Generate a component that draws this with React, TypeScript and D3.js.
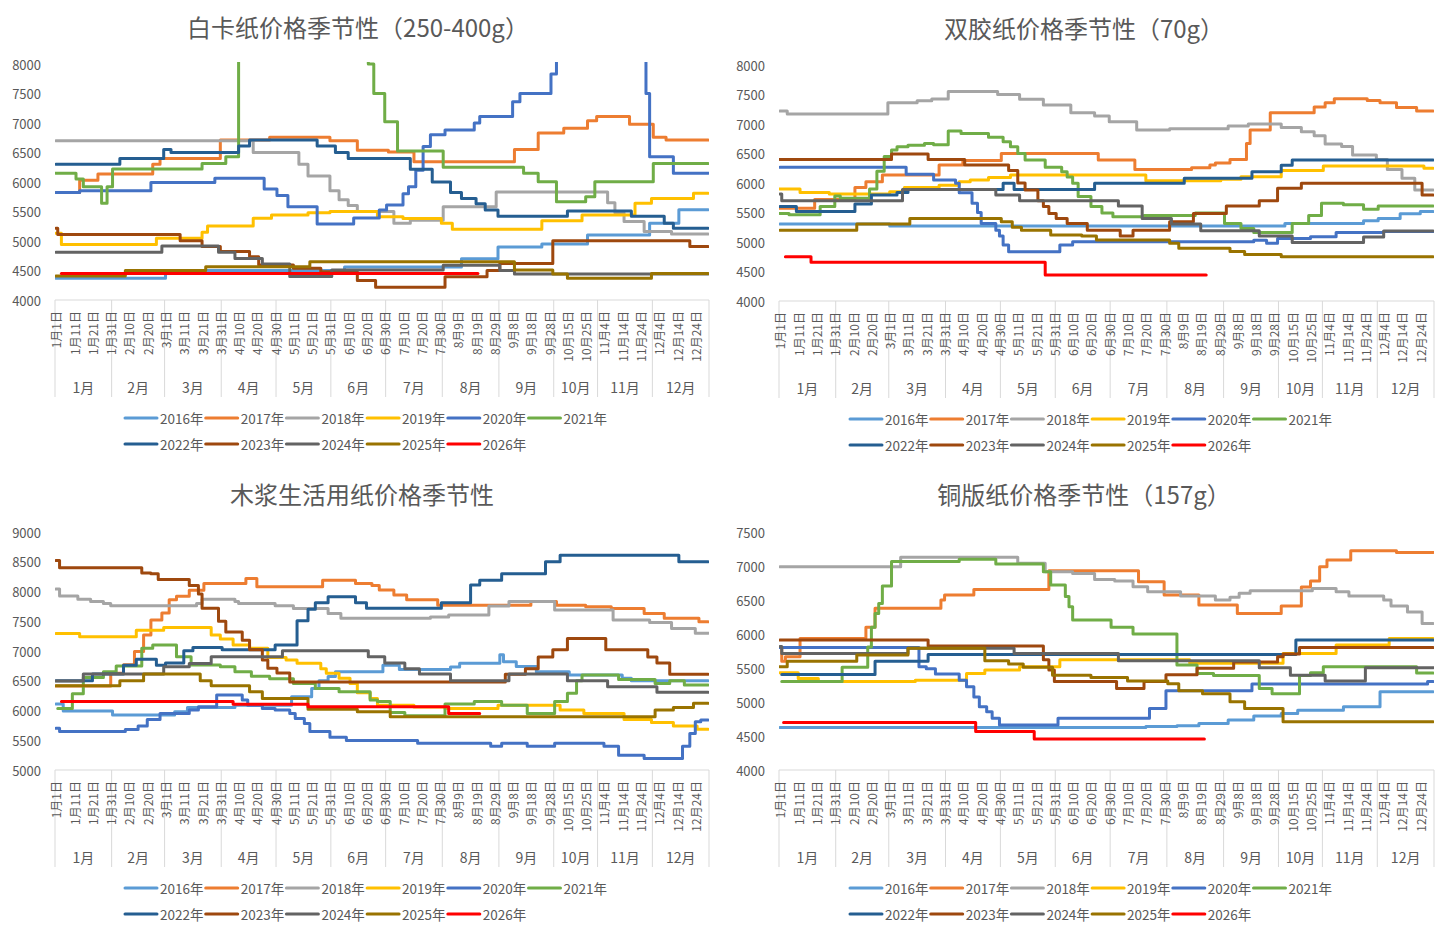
import React from 'react';
import * as d3 from 'd3';

// 季节性图：每条线按交易日索引记录价格变化点 [日序, 价格]
type Pt = [number, number];

const YEARS = ['2016年', '2017年', '2018年', '2019年', '2020年', '2021年', '2022年', '2023年', '2024年', '2025年', '2026年'];
const COLORS = ['#5B9BD5', '#ED7D31', '#A5A5A5', '#FFC000', '#4472C4', '#70AD47', '#255E91', '#9E480E', '#636363', '#997300', '#FF0000'];

const DAY_LABELS = ['1月1日', '1月11日', '1月21日', '1月31日', '2月10日', '2月20日', '3月1日', '3月11日', '3月21日', '3月31日', '4月10日', '4月20日', '4月30日', '5月11日', '5月21日', '5月31日', '6月10日', '6月20日', '6月30日', '7月10日', '7月20日', '7月30日', '8月9日', '8月19日', '8月29日', '9月8日', '9月18日', '9月28日', '10月15日', '10月25日', '11月4日', '11月14日', '11月24日', '12月4日', '12月14日', '12月24日'];
const MONTHS = ['1月', '2月', '3月', '4月', '5月', '6月', '7月', '8月', '9月', '10月', '11月', '12月'];
const MONTH_START = [0, 31, 60, 91, 121, 151, 181, 212, 243, 273, 297, 327, 358];
const N_DAYS = 358;

// 白卡纸（250-400g）
const BAIKA: Pt[][] = [
  [[0, 4370], [60, 4500], [158, 4560], [222, 4700], [242, 4900], [266, 4950], [291, 5100], [325, 5300], [341, 5530]],
  [[0, 5820], [13, 6030], [23, 6135], [53, 6300], [57, 6400], [90, 6710], [117, 6760], [150, 6700], [165, 6540], [182, 6510], [196, 6345], [251, 6550], [264, 6830], [278, 6910], [291, 7040], [296, 7110], [314, 6980], [327, 6760], [334, 6710]],
  [[0, 6700], [108, 6500], [133, 6300], [138, 6100], [150, 5850], [155, 5700], [160, 5600], [165, 5500], [185, 5300], [194, 5350], [212, 5580], [241, 5830], [302, 5650], [306, 5480], [311, 5330], [322, 5160], [337, 5120]],
  [[0, 5130], [3, 4940], [55, 5045], [80, 5150], [83, 5255], [108, 5385], [118, 5440], [138, 5480], [150, 5500], [176, 5410], [190, 5380], [211, 5300], [217, 5200], [266, 5345], [288, 5440], [317, 5640], [326, 5720], [349, 5810]],
  [[0, 5820], [13, 5850], [52, 5990], [87, 6065], [114, 5880], [121, 5770], [127, 5580], [143, 5290], [163, 5390], [177, 5525], [181, 5610], [190, 5800], [193, 5920], [197, 6200], [201, 6600], [205, 6800], [213, 6880], [229, 7000], [232, 7110], [250, 7360], [254, 7500], [271, 7830], [274, 9000], [323, 7500], [325, 6430], [338, 6150]],
  [[0, 6150], [11, 6050], [15, 5920], [25, 5640], [28, 5920], [31, 6220], [80, 6315], [93, 6430], [100, 9000], [171, 8000], [174, 7500], [180, 7020], [187, 6525], [212, 6250], [256, 6150], [264, 6005], [274, 5665], [290, 5750], [295, 6005], [327, 6315]],
  [[0, 6300], [35, 6400], [59, 6550], [63, 6500], [100, 6610], [106, 6710], [143, 6610], [153, 6500], [160, 6400], [194, 6215], [206, 6000], [216, 5820], [222, 5720], [230, 5630], [235, 5525], [242, 5420], [280, 5510], [315, 5420], [333, 5300], [338, 5215]],
  [[0, 5215], [1, 5110], [68, 5005], [80, 4905], [90, 4820], [106, 4735], [111, 4595], [130, 4540], [145, 4480], [165, 4330], [175, 4215], [213, 4395], [236, 4500], [243, 4620], [272, 5005], [347, 4905]],
  [[0, 4810], [58, 4915], [89, 4810], [98, 4705], [113, 4610], [128, 4400], [151, 4510], [212, 4590], [243, 4500], [251, 4440]],
  [[0, 4405], [38, 4500], [82, 4565], [139, 4650], [251, 4510], [272, 4440], [280, 4370], [326, 4450]],
  [[3, 4450], [231, 4450]],
];

// 双胶纸（70g）
const SHUANGJIAO: Pt[][] = [
  [[0, 5305], [60, 5270], [276, 5315], [319, 5360], [327, 5400], [339, 5480], [350, 5515]],
  [[0, 5570], [19, 5720], [41, 5925], [47, 6020], [56, 6135], [87, 6305], [100, 6380], [121, 6500], [174, 6390], [194, 6230], [225, 6260], [235, 6305], [238, 6340], [246, 6400], [255, 6670], [257, 6900], [268, 7190], [292, 7290], [298, 7360], [303, 7430], [321, 7400], [328, 7360], [337, 7280], [348, 7220]],
  [[0, 7220], [4, 7170], [59, 7360], [75, 7395], [83, 7425], [92, 7550], [119, 7500], [131, 7420], [144, 7320], [159, 7190], [172, 7135], [180, 7040], [195, 6900], [213, 6920], [245, 6965], [256, 7000], [274, 6940], [285, 6870], [292, 6800], [298, 6660], [307, 6620], [313, 6475], [326, 6400], [332, 6230], [340, 6080], [347, 5880]],
  [[0, 5900], [11, 5840], [27, 5815], [60, 5850], [68, 5925], [87, 5960], [98, 6020], [104, 6050], [114, 6095], [126, 6135], [200, 6040], [241, 6065], [252, 6105], [274, 6210], [297, 6290], [352, 6250]],
  [[0, 6265], [69, 6150], [84, 6050], [96, 5995], [98, 5835], [105, 5655], [108, 5500], [110, 5315], [118, 5200], [120, 5100], [122, 4950], [125, 4835], [153, 4950], [160, 5005], [259, 5030], [266, 4980], [272, 5060], [290, 5090], [304, 5160], [330, 5180]],
  [[0, 5485], [5, 5460], [22, 5600], [30, 5780], [33, 5740], [49, 5900], [53, 6200], [57, 6450], [61, 6560], [64, 6615], [70, 6640], [79, 6670], [84, 6650], [92, 6880], [99, 6840], [114, 6775], [122, 6700], [126, 6615], [130, 6500], [134, 6390], [145, 6265], [154, 6190], [157, 6100], [160, 5995], [163, 5770], [170, 5600], [176, 5490], [182, 5430], [199, 5450], [227, 5490], [243, 5315], [252, 5230], [259, 5160], [280, 5315], [289, 5450], [296, 5655], [308, 5630], [319, 5555], [327, 5610]],
  [[0, 5600], [9, 5515], [41, 5645], [50, 5795], [64, 5840], [70, 5890], [122, 5995], [128, 5890], [172, 5995], [221, 6080], [258, 6190], [274, 6300], [280, 6390]],
  [[0, 6400], [61, 6490], [81, 6400], [101, 6305], [125, 6210], [130, 6000], [134, 5880], [141, 5700], [144, 5600], [147, 5485], [151, 5400], [157, 5315], [168, 5200], [186, 5100], [193, 5200], [213, 5345], [226, 5485], [244, 5610], [262, 5700], [272, 5910], [285, 5995], [351, 5795]],
  [[0, 5815], [1, 5700], [67, 5890], [118, 5795], [131, 5700], [185, 5610], [198, 5400], [214, 5305], [230, 5190], [262, 5100], [280, 4990], [319, 5085], [330, 5185]],
  [[0, 5200], [42, 5305], [71, 5400], [121, 5345], [127, 5250], [132, 5200], [148, 5120], [165, 5100], [173, 5035], [213, 4980], [218, 4895], [246, 4840], [254, 4790], [274, 4750]],
  [[3, 4750], [17, 4655], [145, 4440], [233, 4440]],
];

// 木浆生活用纸
const MUJIANG: Pt[][] = [
  [[0, 6110], [4, 5990], [31, 5925], [65, 5980], [72, 6050], [98, 6090], [129, 6230], [140, 6370], [144, 6500], [149, 6570], [153, 6650], [179, 6760], [188, 6690], [216, 6730], [221, 6795], [243, 6935], [245, 6820], [252, 6740], [263, 6650], [281, 6595], [310, 6540], [315, 6500]],
  [[0, 6410], [30, 6625], [37, 6770], [43, 6990], [48, 7270], [52, 7520], [58, 7640], [62, 7860], [66, 7920], [73, 8020], [81, 8135], [104, 8220], [110, 8080], [146, 8190], [164, 8135], [173, 8100], [177, 8025], [185, 7940], [192, 7860], [209, 7770], [260, 7830], [274, 7770], [290, 7745], [304, 7715], [322, 7630], [333, 7550], [352, 7490]],
  [[0, 8040], [2, 7925], [12, 7870], [19, 7830], [26, 7800], [30, 7760], [77, 7800], [80, 7870], [98, 7830], [100, 7800], [120, 7760], [130, 7715], [149, 7630], [156, 7550], [205, 7570], [215, 7605], [237, 7755], [248, 7830], [273, 7690], [305, 7520], [325, 7480], [337, 7380], [350, 7300]],
  [[0, 7295], [13, 7240], [44, 7350], [59, 7395], [85, 7270], [90, 7200], [97, 7100], [106, 7045], [116, 6890], [126, 6850], [132, 6795], [145, 6700], [148, 6625], [155, 6540], [161, 6455], [165, 6300], [172, 6200], [176, 6090], [196, 6060], [213, 6035], [242, 6090], [276, 6010], [289, 5950], [311, 5850], [326, 5800], [338, 5740], [351, 5685]],
  [[0, 5700], [2, 5645], [38, 5680], [45, 5740], [50, 5850], [57, 5950], [73, 6010], [78, 6065], [88, 6260], [102, 6175], [105, 6090], [113, 6035], [120, 6010], [128, 5950], [131, 5865], [136, 5780], [139, 5645], [150, 5550], [159, 5495], [198, 5450], [238, 5400], [244, 5450], [258, 5400], [273, 5450], [300, 5400], [308, 5250], [322, 5195], [343, 5400], [347, 5615], [350, 5810], [353, 5840]],
  [[1, 6035], [9, 6280], [15, 6555], [26, 6650], [33, 6750], [47, 7045], [53, 7100], [66, 6905], [74, 6765], [90, 6735], [98, 6650], [107, 6575], [117, 6535], [130, 6455], [142, 6370], [155, 6315], [172, 6175], [176, 6150], [183, 5965], [191, 5910], [213, 6110], [229, 6150], [244, 6090], [258, 5950], [273, 6150], [280, 6290], [285, 6500], [288, 6595], [308, 6520], [328, 6455], [336, 6500], [344, 6430]],
  [[0, 6500], [20, 6615], [37, 6760], [44, 6860], [55, 6760], [60, 6800], [70, 7005], [75, 7060], [91, 7020], [120, 7100], [132, 7510], [138, 7700], [142, 7810], [149, 7910], [164, 7810], [170, 7720], [211, 7810], [227, 8110], [232, 8190], [244, 8300], [268, 8500], [276, 8610], [341, 8500]],
  [[0, 8520], [2, 8400], [47, 8310], [52, 8300], [56, 8200], [73, 8100], [78, 7960], [80, 7720], [89, 7500], [93, 7320], [102, 7180], [106, 7020], [113, 6850], [116, 6710], [121, 6630], [128, 6480], [246, 6610], [257, 6700], [264, 6900], [272, 7020], [280, 7210], [301, 7020], [324, 6900], [329, 6800], [336, 6610]],
  [[0, 6495], [15, 6615], [59, 6735], [73, 6790], [85, 6905], [124, 7005], [171, 6905], [180, 6800], [191, 6700], [199, 6615], [216, 6500], [248, 6615], [280, 6500], [302, 6400], [329, 6305]],
  [[0, 6415], [35, 6500], [48, 6615], [79, 6500], [85, 6415], [106, 6315], [113, 6200], [138, 6020], [165, 5980], [183, 5895], [328, 6010], [338, 6050], [349, 6120]],
  [[3, 6150], [97, 6105], [138, 6065], [215, 5950], [232, 5950]],
];

// 铜版纸（157g）
const TONGBAN: Pt[][] = [
  [[0, 4625], [200, 4640], [217, 4650], [229, 4685], [245, 4735], [259, 4795], [274, 4830], [283, 4880], [308, 4930], [328, 5150]],
  [[0, 5800], [1, 5600], [3, 5665], [11, 5935], [47, 6100], [52, 6380], [88, 6500], [90, 6575], [106, 6655], [147, 6930], [196, 6770], [210, 6575], [229, 6425], [250, 6300], [274, 6410], [285, 6690], [290, 6780], [295, 6990], [299, 7090], [312, 7225], [337, 7200]],
  [[0, 6990], [66, 7130], [130, 7040], [145, 6915], [160, 6890], [172, 6800], [183, 6780], [193, 6695], [201, 6620], [219, 6560], [238, 6500], [246, 6540], [251, 6600], [257, 6635], [291, 6670], [304, 6620], [311, 6560], [330, 6500], [334, 6410], [343, 6325], [351, 6155]],
  [[0, 5430], [10, 5345], [21, 5300], [74, 5320], [102, 5420], [112, 5470], [131, 5520], [153, 5620], [224, 5570], [275, 5715], [304, 5840], [333, 5935]],
  [[0, 5800], [76, 5520], [80, 5490], [85, 5410], [98, 5320], [102, 5225], [106, 5075], [109, 4930], [113, 4855], [116, 4760], [120, 4660], [152, 4760], [202, 4905], [211, 5165], [258, 5265], [354, 5300]],
  [[1, 5300], [34, 5510], [48, 5810], [50, 6100], [52, 6300], [54, 6450], [56, 6705], [61, 7065], [98, 7100], [118, 7030], [144, 6915], [148, 6720], [156, 6550], [158, 6400], [160, 6205], [181, 6100], [193, 6000], [217, 5545], [228, 5420], [237, 5390], [262, 5200], [269, 5120], [284, 5390], [290, 5430], [297, 5520], [348, 5425]],
  [[1, 5405], [52, 5600], [81, 5700], [282, 5910]],
  [[0, 5910], [81, 5825], [144, 5620], [147, 5470], [150, 5300], [184, 5200], [199, 5300], [211, 5400], [228, 5495], [248, 5590], [272, 5665], [275, 5705], [284, 5800]],
  [[0, 5815], [1, 5715], [70, 5790], [128, 5715], [185, 5605], [262, 5505], [279, 5395], [298, 5310], [320, 5505]],
  [[0, 5520], [4, 5600], [42, 5690], [70, 5790], [112, 5605], [125, 5560], [133, 5510], [149, 5395], [170, 5360], [190, 5310], [212, 5270], [218, 5165], [231, 5120], [246, 5005], [254, 4905], [275, 4710]],
  [[2, 4700], [107, 4565], [139, 4455], [232, 4455]],
];

interface PanelCfg {
  title: string;
  data: Pt[][];
  left: number;
  right: number;
  top: number;
  bottom: number;
  yMin: number;
  yMax: number;
  titleX: number;
  titleY: number;
  legendX: number;
}

const PANELS: PanelCfg[] = [
  { title: '白卡纸价格季节性（250-400g）', data: BAIKA, left: 55, right: 709, top: 64, bottom: 300, yMin: 4000, yMax: 8000, titleX: 358, titleY: 37, legendX: 125 },
  { title: '双胶纸价格季节性（70g）', data: SHUANGJIAO, left: 779, right: 1434, top: 65, bottom: 301, yMin: 4000, yMax: 8000, titleX: 1084, titleY: 38, legendX: 850 },
  { title: '木浆生活用纸价格季节性', data: MUJIANG, left: 55, right: 709, top: 532, bottom: 770, yMin: 5000, yMax: 9000, titleX: 362, titleY: 504, legendX: 125 },
  { title: '铜版纸价格季节性（157g）', data: TONGBAN, left: 779, right: 1434, top: 532, bottom: 770, yMin: 4000, yMax: 7500, titleX: 1084, titleY: 504, legendX: 850 },
];

const FONT = "'Noto Sans CJK SC', 'Noto Sans', sans-serif";
const TEXT = '#595959';
const AXIS = '#D9D9D9';

const Panel: React.FC<{ cfg: PanelCfg; idx: number }> = ({ cfg, idx }) => {
  const xs = d3.scaleLinear().domain([0, N_DAYS]).range([cfg.left, cfg.right]);
  const ys = d3.scaleLinear().domain([cfg.yMin, cfg.yMax]).range([cfg.bottom, cfg.top]);
  const line = d3.line<Pt>()
    .x(d => xs(d[0] + 0.5))
    .y(d => ys(d[1]))
    .curve(d3.curveStepAfter);
  const ticks = d3.range(cfg.yMin, cfg.yMax + 1, 500);
  const clipId = `plot-clip-${idx}`;

  return (
    <g>
      <defs>
        <clipPath id={clipId}>
          <rect x={cfg.left} y={cfg.top - 2} width={cfg.right - cfg.left} height={cfg.bottom - cfg.top + 4} />
        </clipPath>
      </defs>

      <text x={cfg.titleX} y={cfg.titleY} textAnchor="middle" fontSize={24} fill={TEXT} fontFamily={FONT}>
        {cfg.title}
      </text>

      {ticks.map(t => (
        <text key={t} x={cfg.left - 14} y={ys(t)} textAnchor="end" dominantBaseline="central"
          fontSize={13} fill={TEXT} fontFamily={FONT}>{t}</text>
      ))}

      {/* category axis */}
      <line x1={cfg.left} x2={cfg.right} y1={cfg.bottom} y2={cfg.bottom} stroke={AXIS} strokeWidth={1} />
      {MONTH_START.map(m => (
        <line key={m} x1={xs(m)} x2={xs(m)} y1={cfg.bottom} y2={cfg.bottom + 97} stroke={AXIS} strokeWidth={1} />
      ))}
      {DAY_LABELS.map((t, i) => (
        <text key={t} transform={`translate(${xs(i * 10 + 0.5)},${cfg.bottom + 11}) rotate(-90)`}
          textAnchor="end" dominantBaseline="central" fontSize={12} fill={TEXT} fontFamily={FONT}>{t}</text>
      ))}
      {MONTHS.map((m, i) => (
        <text key={m} x={xs((MONTH_START[i] + MONTH_START[i + 1]) / 2)} y={cfg.bottom + 87}
          textAnchor="middle" dominantBaseline="central" fontSize={14} fill={TEXT} fontFamily={FONT}>{m}</text>
      ))}

      <g clipPath={`url(#${clipId})`}>
        {cfg.data.map((s, i) => {
          const pts: Pt[] = i === YEARS.length - 1 ? s : [...s, [N_DAYS - 1, s[s.length - 1][1]]];
          return (
            <path key={YEARS[i]} d={line(pts) || ''} fill="none" stroke={COLORS[i]} strokeWidth={3}
              strokeLinejoin="round" strokeLinecap="round" />
          );
        })}
      </g>

      {YEARS.map((y, i) => {
        const row = i < 6 ? 0 : 1;
        const col = i < 6 ? i : i - 6;
        const lx = cfg.legendX + col * 80.7;
        const ly = cfg.bottom + 118 + row * 26;
        return (
          <g key={y}>
            <line x1={lx} x2={lx + 32} y1={ly} y2={ly} stroke={COLORS[i]} strokeWidth={3} strokeLinecap="round" />
            <text x={lx + 35} y={ly} dominantBaseline="central" fontSize={13.5} fill={TEXT} fontFamily={FONT}>{y}</text>
          </g>
        );
      })}
    </g>
  );
};

const App: React.FC = () => (
  <svg width={1452} height={935} style={{ position: 'absolute', left: 0, top: 0, background: '#fff' }}>
    <rect width={1452} height={935} fill="#fff" />
    {PANELS.map((p, i) => <Panel key={p.title} cfg={p} idx={i} />)}
  </svg>
);

export default App;
